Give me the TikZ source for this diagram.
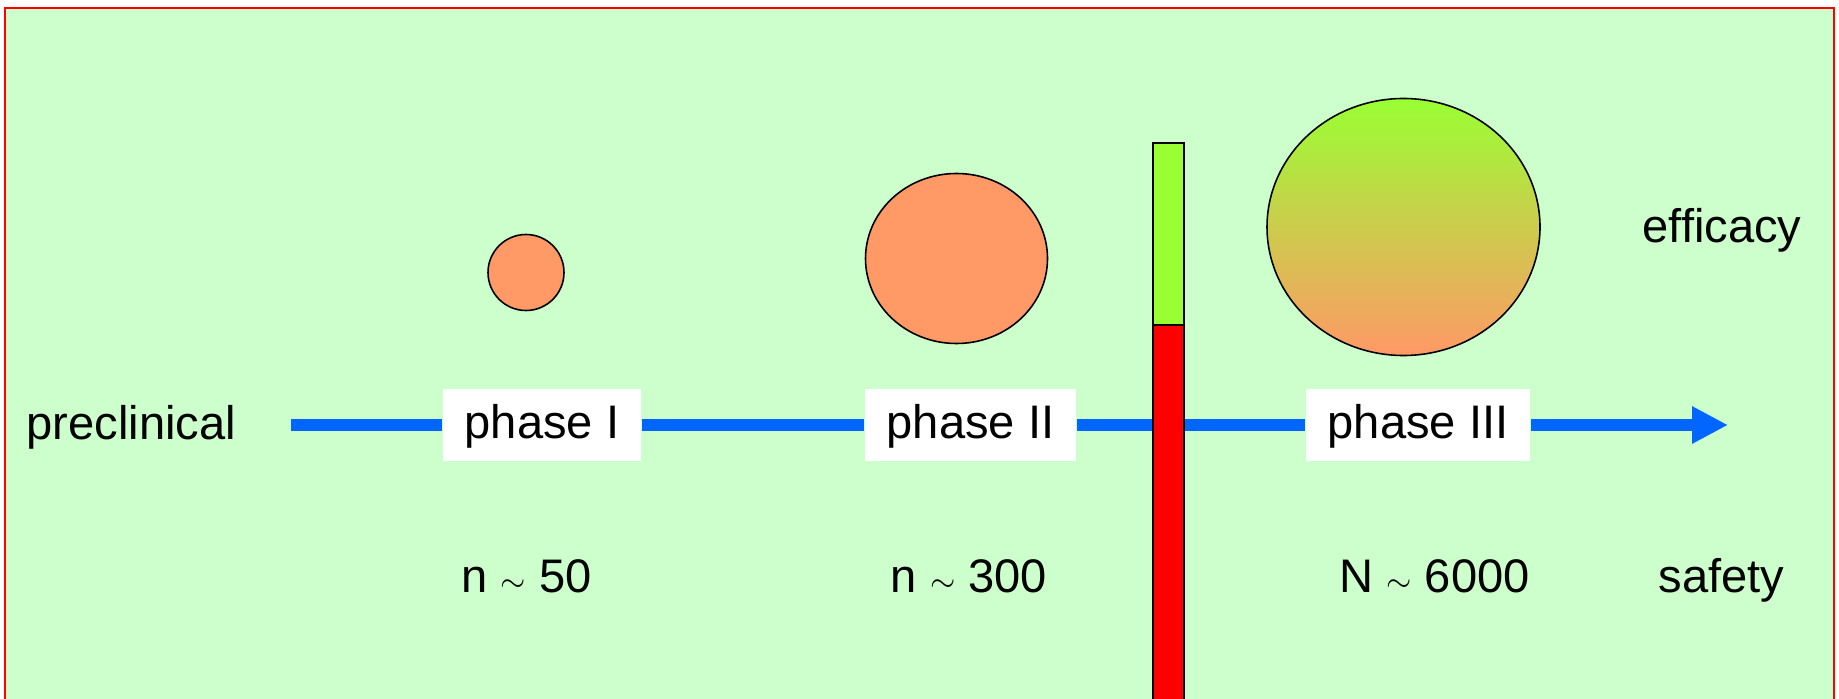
\documentclass[tikz,border=0pt]{standalone}
\usepackage{fontspec}
\setmainfont{Liberation Sans}
\usepackage{xcolor}
\usepackage{tikz}
\usetikzlibrary{arrows.meta}

\definecolor{bgGreen}{HTML}{CCFFCC}
\definecolor{lineBlue}{HTML}{0066FF}
\definecolor{dotOrange}{HTML}{FF9966}
\definecolor{barGreen}{HTML}{99FF33}

\tikzset{
  labeltext/.style={font=\fontsize{13.4}{16}\selectfont, inner sep=0pt},
  phasebox/.style={fill=white, font=\fontsize{13.4}{16}\selectfont, inner xsep=0.22cm, inner ysep=0pt,
    minimum height=0.72cm, text height=0.34cm, text depth=0.06cm},
  trial/.style={draw=black, line width=0.45pt, fill=dotOrange},
  timeline/.style={lineBlue, line width=0.12cm},
}
\newcommand{\approxn}{\raisebox{0.5pt}{\fontsize{9}{9}\selectfont$\sim$}}

\begin{document}
\begin{tikzpicture}[x=1cm, y=-1cm]
        \useasboundingbox (0,0) rectangle (18.39,6.99);
        % Background
        \draw[red, line width=0.7pt, fill=bgGreen] (0.05,0.08) rectangle (18.34,7.4);

        % Phase boxes
        \node[phasebox] (p1) at (5.42,4.25) {phase I};
        \node[phasebox] (p2) at (9.705,4.25) {phase II};
        \node[phasebox] (p3) at (14.18,4.25) {phase III};

        % Time line
        \coordinate (start) at (2.91,4.25);
        \coordinate (end) at (17.28,4.25);
        \draw[timeline] (start) -- (p1.west);
        \draw[timeline] (p1.east) -- (p2.west);
        \draw[timeline] (p2.east) -- (p3.west);
        \draw[timeline, -{Triangle[length=0.36cm, width=0.35cm]}] (p3.east) -- (end);

        % Trial sizes
        \draw[trial] (5.26,2.725) circle (0.38);
        \draw[trial] (9.565,2.585) ellipse (0.91 and 0.85);
        \shadedraw[top color=barGreen, bottom color=dotOrange, draw=black, line width=0.45pt]
            (14.035,2.27) ellipse (1.365 and 1.285);

        % Go / no-go bar
        \draw[fill=barGreen, line width=0.45pt] (11.53,1.43) rectangle (11.84,3.25);
        \draw[fill=red, line width=0.45pt] (11.53,3.25) rectangle (11.84,7.4);

        % Labels
        \node[labeltext, anchor=base west] (pre) at (0.26,4.40) {preclinical};
        \node[labeltext, anchor=base west] (eff) at (16.42,2.43) {efficacy};
        \node[labeltext, anchor=base west] (saf) at (16.58,5.93) {safety};

        \node[labeltext, anchor=base] (n1) at (5.265,5.93) {n \approxn{} 50};
        \node[labeltext, anchor=base] (n2) at (9.69,5.93) {n \approxn{} 300};
        \node[labeltext, anchor=base] (n3) at (14.345,5.93) {N \approxn{} 6000};
\end{tikzpicture}
\end{document}
